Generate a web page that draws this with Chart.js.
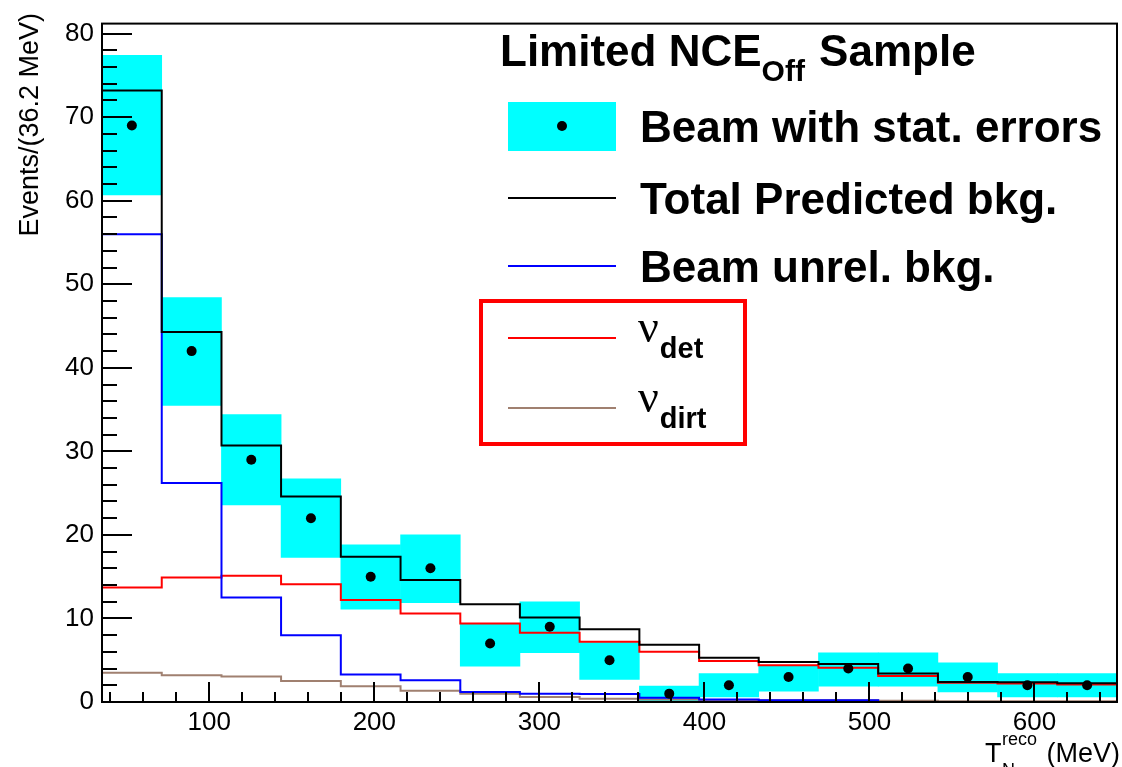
<!DOCTYPE html>
<html><head><meta charset="utf-8">
<script src="https://cdn.jsdelivr.net/npm/chart.js@4.4.0/dist/chart.umd.min.js"></script>
<style>html,body{margin:0;padding:0;background:#fff;overflow:hidden}canvas{display:block}</style>
</head><body>
<canvas id="c" width="1122" height="767"></canvas>
<script>
// ---- data ----
const binEdges = [35, 71.2, 107.4, 143.5, 179.7, 215.9, 252.1, 288.2, 324.4, 360.6, 396.8, 432.9, 469.1, 505.3, 541.5, 577.6, 613.8, 650];
const beamCounts   = [69, 42, 29, 22, 15, 16, 7, 9, 5, 1, 2, 3, 4, 4, 3, 2, 2];
const beamErrLow   = [60.7, 35.5, 23.6, 17.3, 11.1, 11.9, 4.3, 5.9, 2.7, 0.0, 0.6, 1.3, 1.9, 1.9, 1.2, 0.6, 0.6];
const beamErrHigh  = [77.4, 48.4, 34.4, 26.7, 18.8, 20.0, 9.3, 12.0, 7.1, 1.9, 3.4, 4.4, 5.9, 5.9, 4.7, 3.4, 3.4];
const totalBkg     = [73.2, 44.3, 30.7, 24.6, 17.4, 14.6, 11.7, 10.1, 8.7, 6.85, 5.3, 4.8, 4.55, 3.4, 2.4, 2.35, 2.25];
const beamUnrelBkg = [56.0, 26.2, 12.5, 8.0, 3.3, 2.6, 1.2, 1.0, 0.95, 0.5, 0.3, 0.2, 0.2, 0.0, 0.0, 0.0, 0.0];
const nuDet        = [13.7, 14.9, 15.1, 14.1, 12.2, 10.6, 9.4, 8.3, 7.2, 6.0, 4.9, 4.4, 4.1, 3.1, 2.3, 2.2, 2.1];
const nuDirt       = [3.5, 3.2, 3.05, 2.5, 1.9, 1.35, 1.0, 0.6, 0.4, 0.3, 0.2, 0.2, 0.2, 0.15, 0.1, 0.1, 0.1];
const xTickValues  = [100, 200, 300, 400, 500, 600];
const xMinorTicks  = [40, 60, 80, 120, 140, 160, 180, 220, 240, 260, 280, 320, 340, 360, 380, 420, 440, 460, 480, 520, 540, 560, 580, 620, 640];
const yTickValues  = [0, 10, 20, 30, 40, 50, 60, 70, 80];
const yMinorTicks  = [2, 4, 6, 8, 12, 14, 16, 18, 22, 24, 26, 28, 32, 34, 36, 38, 42, 44, 46, 48, 52, 54, 56, 58, 62, 64, 66, 68, 72, 74, 76, 78];

const COL_CYAN = '#00ffff', COL_BLACK = '#000000', COL_BLUE = '#0000ff', COL_RED = '#ff0000', COL_BROWN = '#a08070';

const binCenters = binEdges.slice(0, -1).map((e, i) => (e + binEdges[i + 1]) / 2);
function histPoints(vals) {
  return binEdges.map((e, i) => ({ x: e, y: vals[Math.min(i, vals.length - 1)] }));
}

const SANS = '"Liberation Sans", Arial, Helvetica, sans-serif';

function drawRuns(ctx, x, runs) {
  let cx = x;
  for (const r of runs) {
    ctx.font = r.font;
    ctx.fillText(r.text, cx, r.y);
    cx += ctx.measureText(r.text).width + (r.gap || 0);
  }
}

const decorPlugin = {
  id: 'decor',
  afterDatasetsDraw(chart) {
    const ctx = chart.ctx, a = chart.chartArea;
    const xs = chart.scales.x, ys = chart.scales.y;
    ctx.save();
    ctx.strokeStyle = '#000'; ctx.lineWidth = 2;
    ctx.beginPath();
    for (const v of yTickValues) { const p = Math.round(ys.getPixelForValue(v)); ctx.moveTo(a.left, p); ctx.lineTo(a.left + 30, p); }
    for (const v of xTickValues) { const p = Math.round(xs.getPixelForValue(v)); ctx.moveTo(p, a.bottom); ctx.lineTo(p, a.bottom - 20); }
    ctx.stroke();
    ctx.beginPath();
    for (const v of yMinorTicks) { const p = Math.round(ys.getPixelForValue(v)); ctx.moveTo(a.left, p); ctx.lineTo(a.left + 15, p); }
    for (const v of xMinorTicks) { const p = Math.round(xs.getPixelForValue(v)); ctx.moveTo(p, a.bottom); ctx.lineTo(p, a.bottom - 10); }
    ctx.stroke();
    ctx.strokeRect(a.left, a.top, a.right - a.left, a.bottom - a.top);
    ctx.restore();
  },
  afterDraw(chart) {
    const ctx = chart.ctx;
    ctx.save();
    ctx.fillStyle = '#000';
    ctx.textBaseline = 'alphabetic';
    // y title
    ctx.save();
    ctx.translate(38, 13);
    ctx.rotate(-Math.PI / 2);
    ctx.textAlign = 'right';
    ctx.font = '27px ' + SANS;
    ctx.fillText('Events/(36.2 MeV)', 0, 0);
    ctx.restore();
    // x title
    ctx.textAlign = 'left';
    ctx.font = '27px ' + SANS;
    ctx.fillText('T', 985, 762);
    ctx.font = '18px ' + SANS;
    ctx.fillText('reco', 1002, 745);
    ctx.fillText('N', 1002, 776);
    ctx.textAlign = 'right';
    ctx.font = '27px ' + SANS;
    ctx.fillText('(MeV)', 1120, 762);
    ctx.textAlign = 'left';

    // legend title
    const B = 'bold 44px ' + SANS, Bs = 'bold 30px ' + SANS;
    drawRuns(ctx, 500, [
      { text: 'Limited NCE', font: B, y: 66 },
      { text: 'Off', font: Bs, y: 81, gap: 2 },
      { text: ' Sample', font: B, y: 66 }
    ]);
    const ds = chart.data.datasets;
    ctx.fillStyle = ds[0].backgroundColor;
    ctx.fillRect(508, 102, 108, 49);
    ctx.fillStyle = '#000';
    ctx.beginPath(); ctx.arc(562, 126, 5, 0, Math.PI * 2); ctx.fill();
    ctx.font = B;
    ctx.fillText(ds[0].label, 640, 142);
    const lineEntry = (d, y) => {
      ctx.strokeStyle = d.borderColor; ctx.lineWidth = 2;
      ctx.beginPath(); ctx.moveTo(508, y); ctx.lineTo(616, y); ctx.stroke();
    };
    lineEntry(ds[4], 198);
    ctx.fillText(ds[4].label, 640, 214);
    lineEntry(ds[3], 266);
    ctx.fillText(ds[3].label, 640, 282);
    ctx.strokeStyle = '#ff0000'; ctx.lineWidth = 4;
    ctx.strokeRect(481, 301, 264, 143);
    lineEntry(ds[2], 338);
    lineEntry(ds[1], 408);
    ctx.fillStyle = '#000';
    const NU = '46px "Liberation Serif", "DejaVu Serif", serif';
    drawRuns(ctx, 638, [
      { text: 'ν', font: NU, y: 342, gap: 1 },
      { text: 'det', font: 'bold 29px ' + SANS, y: 358 }
    ]);
    drawRuns(ctx, 638, [
      { text: 'ν', font: NU, y: 412, gap: 1 },
      { text: 'dirt', font: 'bold 29px ' + SANS, y: 428 }
    ]);
    ctx.restore();
  }
};

new Chart(document.getElementById('c').getContext('2d'), {
  type: 'bar',
  data: {
    datasets: [
      { type: 'bar', label: 'Beam with stat. errors',
        data: binCenters.map((c, i) => ({ x: c, y: [beamErrLow[i], beamErrHigh[i]] })),
        backgroundColor: COL_CYAN, borderWidth: 0, borderSkipped: false,
        barPercentage: 1.0, categoryPercentage: 1.0, order: 10 },
      { type: 'line', label: 'ν dirt', data: histPoints(nuDirt), borderColor: COL_BROWN, borderWidth: 2,
        stepped: 'before', pointRadius: 0, fill: false, order: 6 },
      { type: 'line', label: 'ν det', data: histPoints(nuDet), borderColor: COL_RED, borderWidth: 2,
        stepped: 'before', pointRadius: 0, fill: false, order: 5 },
      { type: 'line', label: 'Beam unrel. bkg.', data: histPoints(beamUnrelBkg), borderColor: COL_BLUE, borderWidth: 2,
        stepped: 'before', pointRadius: 0, fill: false, order: 4 },
      { type: 'line', label: 'Total Predicted bkg.', data: histPoints(totalBkg), borderColor: COL_BLACK, borderWidth: 2,
        stepped: 'before', pointRadius: 0, fill: false, order: 3 },
      { type: 'line', label: 'Beam', data: binCenters.map((c, i) => ({ x: c, y: beamCounts[i] })),
        showLine: false, pointRadius: 5, pointBackgroundColor: '#000', pointBorderWidth: 0, order: 0 }
    ]
  },
  options: {
    responsive: false, animation: false, devicePixelRatio: 1,
    layout: { padding: { left: 0, right: 1, top: 12, bottom: 0 } },
    plugins: { legend: { display: false }, tooltip: { enabled: false } },
    scales: {
      x: {
        type: 'linear', min: 35, max: 650, offset: false,
        grid: { display: false, drawTicks: false }, border: { display: false },
        ticks: { font: { family: SANS, size: 26 }, color: '#000', padding: 5, maxRotation: 0, autoSkip: false },
        afterBuildTicks: s => { s.ticks = xTickValues.map(v => ({ value: v })); },
        afterFit: s => { s.height = 65; }
      },
      y: {
        type: 'linear', min: 0, max: 81.2,
        grid: { display: false, drawTicks: false }, border: { display: false },
        ticks: { font: { family: SANS, size: 26 }, color: '#000', padding: 8, autoSkip: false },
        afterBuildTicks: s => { s.ticks = yTickValues.map(v => ({ value: v })); },
        afterFit: s => { s.width = 102; }
      }
    }
  },
  plugins: [decorPlugin]
});
</script>
</body></html>
